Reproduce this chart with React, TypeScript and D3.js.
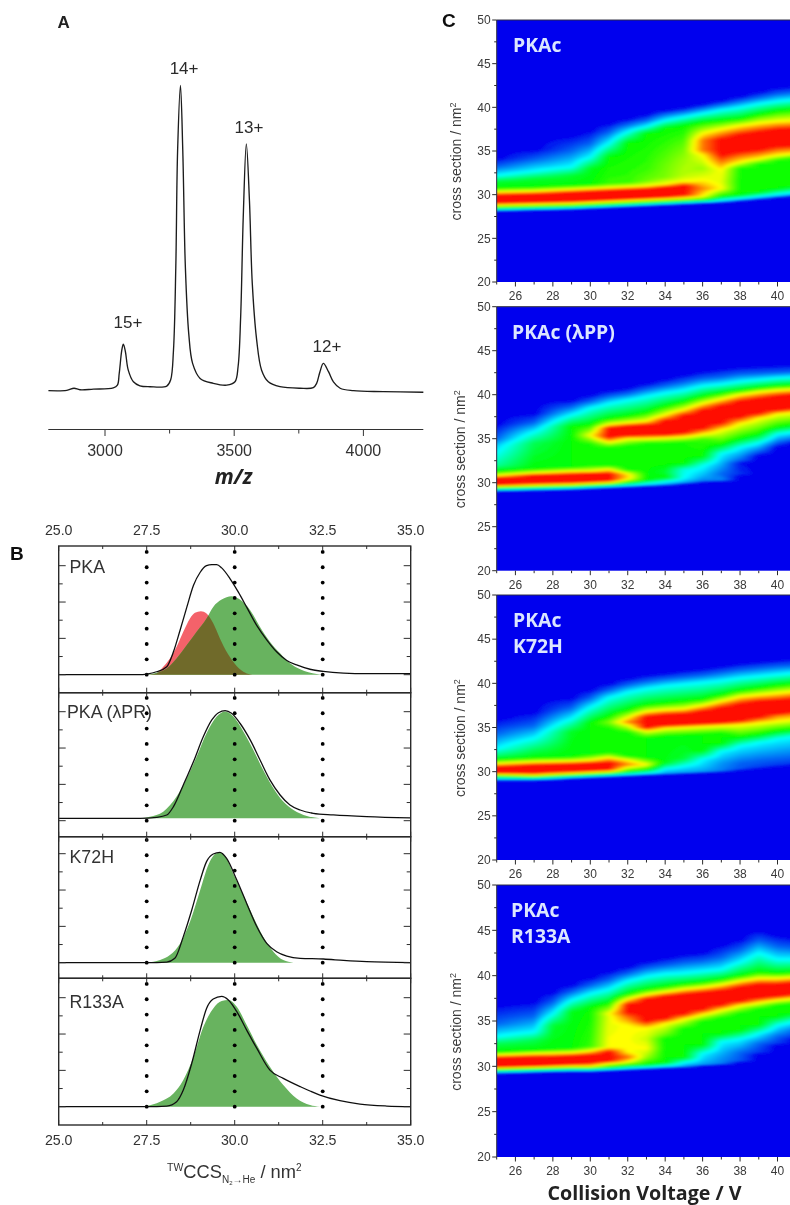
import React, { useMemo } from "react";
import * as d3 from "d3";

// ---------- Panel A ----------
const mzValues = [2781,2852,2880,2903,2955,3032,3048,3055,3065,3071,3079,3090,3110,3135,3174,3239,3254,3265,3274,3281,3292,3301,3311,3324,3339,3368,3419,3471,3503,3515,3525,3535,3547,3559,3570,3587,3606,3632,3677,3755,3806,3819,3832,3845,3865,3884,3910,3961,4077,4232];
const mzIntensity = [0,.1,.8,.3,.5,.9,1.8,5.6,13.2,15.2,12.7,6.7,2.9,1.6,1.3,1.5,3.5,13.2,40.3,78.3,99.5,78.3,40.3,18.7,8.9,4,2.4,1.8,2.9,7.8,24.1,56.6,80.5,62,34.9,16.5,6.7,2.9,1.3,.8,1,2.4,6.2,8.9,6.2,2.9,.8,0,-.3,-.5];
const mzMajorTicks = [3000,3500,4000];
const mzMinorTicks = [3250,3750];
const peakLabels: [string, number, number][] = [["15+",3089,19.1],["14+",3306,102],["13+",3557,82.7],["12+",3859,11.3]];

// ---------- Panel B ----------
type XY = [number, number];
const pkaTotal: XY[] = [[25,0],[27.31,0],[27.5,.006],[27.78,.027],[28.07,.073],[28.26,.21],[28.45,.41],[28.64,.62],[28.83,.82],[29.02,.94],[29.2,1],[29.35,1.01],[29.49,1.01],[29.63,.98],[29.87,.88],[30.1,.76],[30.34,.62],[30.63,.45],[30.91,.32],[31.19,.21],[31.48,.13],[31.76,.09],[32.14,.05],[32.52,.03],[33.09,.015],[33.75,.01],[35,.01]];
const pkaRed: XY[] = [[27.5,0],[27.78,.012],[27.97,.073],[28.16,.149],[28.35,.256],[28.54,.394],[28.73,.516],[28.87,.568],[29.04,.583],[29.2,.562],[29.39,.471],[29.58,.333],[29.77,.211],[29.96,.119],[30.15,.049],[30.34,.012],[30.5,0]];
const pkaGreen: XY[] = [[27.5,0],[27.78,.018],[28.07,.058],[28.35,.149],[28.64,.272],[28.92,.394],[29.2,.516],[29.39,.622],[29.63,.689],[29.91,.72],[30.15,.689],[30.44,.591],[30.72,.438],[31,.303],[31.29,.196],[31.57,.104],[31.86,.049],[32.33,.006],[32.5,0]];
const lppTotal: XY[] = [[25,0],[27.31,0],[27.78,.009],[28.07,.03],[28.26,.107],[28.54,.306],[28.83,.52],[29.11,.75],[29.35,.902],[29.54,.969],[29.73,.988],[29.91,.963],[30.15,.872],[30.44,.719],[30.72,.535],[31,.352],[31.29,.214],[31.57,.122],[31.86,.076],[32.23,.046],[32.8,.031],[33.75,.015],[35,.003]];
const lppGreen: XY[] = [[27.31,0],[27.59,.015],[27.97,.061],[28.35,.199],[28.64,.367],[28.92,.566],[29.2,.78],[29.49,.933],[29.73,.979],[29.96,.933],[30.25,.795],[30.53,.627],[30.81,.443],[31.1,.275],[31.38,.153],[31.67,.076],[32.05,.021],[32.42,0]];
const k72Total: XY[] = [[25,0],[27.5,0],[28.07,.006],[28.3,.04],[28.54,.239],[28.78,.483],[29.02,.758],[29.2,.927],[29.39,.997],[29.58,1.012],[29.77,.957],[30.06,.758],[30.34,.544],[30.63,.33],[30.91,.177],[31.19,.101],[31.48,.061],[31.86,.04],[32.52,.034],[33.09,.021],[33.75,.009],[35,0]];
const k72Green: XY[] = [[27.5,0],[27.88,.024],[28.16,.07],[28.45,.177],[28.73,.376],[29.02,.667],[29.25,.896],[29.44,.997],[29.58,1.012],[29.73,.979],[29.96,.817],[30.25,.618],[30.53,.42],[30.81,.239],[31.1,.101],[31.38,.024],[31.67,0]];
const r133Total: XY[] = [[25,0],[27.5,0],[28.07,.006],[28.35,.046],[28.54,.153],[28.78,.398],[29.02,.703],[29.2,.902],[29.39,.988],[29.63,1.012],[29.82,.979],[30.06,.872],[30.34,.703],[30.63,.535],[31,.336],[31.38,.26],[31.86,.184],[32.42,.107],[32.99,.055],[33.56,.024],[34.32,.006],[35,0]];
const r133Green: XY[] = [[27.5,.006],[27.88,.046],[28.26,.122],[28.54,.245],[28.83,.459],[29.11,.734],[29.39,.902],[29.63,.969],[29.82,.979],[30.06,.917],[30.34,.75],[30.63,.566],[31,.367],[31.38,.199],[31.76,.076],[32.14,.015],[32.42,0]];
const ccsMajorTicks = [25,27.5,30,32.5,35];
const ccsMinorTicks = [26.25,28.75,31.25,33.75];
const ccsLabels = ["25.0","27.5","30.0","32.5","35.0"];
const guideLines = [27.5,30,32.5];
const intensityMajor = [0,1/3,2/3,1];
const intensityMinor = [1/6,1/2,5/6];
const bPanelNames = ["PKA","PKA (λPR)","K72H","R133A"];

// ---------- Panel C: each column is [voltage, [ccs, level] stops] ----------
type Col = [number, XY[]];
const hmPKAc: Col[] = [
[25,[[28,0],[28.2,.15],[28.5,.5],[28.8,.75],[29.1,1],[29.9,1],[30.3,.75],[30.8,.5],[31.5,.45],[32.2,.25],[33.2,.1],[34.2,0]]],
[27,[[28.1,0],[28.3,.15],[28.6,.5],[28.9,.75],[29.2,1],[30,1],[30.4,.75],[30.9,.5],[31.8,.45],[32.7,.25],[34,.1],[35.2,0]]],
[29,[[28.2,0],[28.4,.15],[28.7,.5],[29,.75],[29.3,1],[30.2,1],[30.6,.75],[31.1,.5],[32.2,.45],[33.2,.25],[35,.1],[36.8,0]]],
[30,[[28.3,0],[28.5,.15],[28.8,.5],[29.1,.75],[29.4,1],[30.3,1],[30.7,.75],[31.2,.5],[33,.47],[34.3,.25],[35.8,.1],[37.4,0]]],
[31,[[28.4,0],[28.6,.15],[28.9,.5],[29.2,.75],[29.5,1],[30.4,1],[30.8,.75],[31.3,.55],[34.3,.5],[35.9,.25],[37.1,.1],[38.2,0]]],
[32,[[28.5,0],[28.7,.15],[29,.5],[29.3,.75],[29.6,1],[30.5,1],[30.9,.75],[31.4,.55],[35.9,.5],[37.2,.25],[38,.1],[38.7,0]]],
[33,[[28.6,0],[28.8,.15],[29.1,.5],[29.4,.75],[29.7,1],[30.6,1],[31,.75],[31.6,.6],[33,.55],[37,.5],[37.8,.25],[38.5,.1],[39.2,0]]],
[34,[[28.7,0],[28.9,.15],[29.2,.5],[29.5,.75],[29.8,1],[30.8,1],[31.2,.75],[32,.62],[33.5,.6],[37.6,.5],[38.5,.25],[39.2,.1],[39.7,0]]],
[35,[[28.8,0],[29,.15],[29.3,.5],[29.6,.75],[30,1],[31,1],[31.5,.75],[32.2,.68],[34,.65],[35.5,.6],[37.9,.5],[38.9,.25],[39.5,.1],[40,0]]],
[36,[[28.9,0],[29.1,.15],[29.4,.5],[29.8,.75],[30.7,.87],[31.7,.75],[33,.65],[34.5,.75],[35.1,.88],[36.2,.88],[37,.75],[38.3,.5],[39.3,.25],[39.9,.1],[40.4,0]]],
[37,[[29,0],[29.2,.15],[29.8,.5],[30.7,.75],[31.5,.72],[32.8,.75],[34.6,1],[36.3,1],[37.5,.75],[38.5,.5],[39.7,.25],[40.3,.1],[40.8,0]]],
[38,[[29.2,0],[29.4,.15],[30,.5],[33,.52],[33.7,.75],[35,1],[36.8,1],[37.9,.75],[38.7,.5],[40,.25],[40.7,.1],[41.3,0]]],
[39,[[29.4,0],[29.6,.15],[30.3,.5],[33.5,.52],[34.1,.75],[35.2,1],[37.1,1],[38.2,.75],[39.2,.5],[40.4,.25],[41.1,.1],[41.8,0]]],
[40,[[29.6,0],[29.9,.2],[30.7,.5],[33.9,.52],[34.5,.75],[35.6,1],[37.4,1],[38.4,.75],[39.6,.5],[40.7,.25],[41.5,.1],[42.3,0]]],
[41,[[29.8,0],[30.1,.2],[31,.5],[34.2,.52],[34.7,.75],[35.7,1],[37.5,1],[38.5,.75],[39.8,.5],[40.9,.25],[41.7,.1],[42.5,0]]],
];
const hmLPP: Col[] = [
[25,[[28.9,0],[29.1,.15],[29.4,.5],[29.6,.75],[29.8,1],[30.5,1],[30.8,.75],[31.3,.5],[32,.35],[33,.28],[34.2,.2],[35,.1],[36.7,0]]],
[27,[[29,0],[29.2,.15],[29.5,.5],[29.7,.75],[30,1],[30.8,1],[31.1,.75],[31.6,.5],[34.5,.42],[35.8,.25],[36.8,.1],[37.9,0]]],
[29,[[29.1,0],[29.3,.15],[29.6,.5],[29.8,.75],[30.1,1],[30.9,1],[31.3,.75],[31.8,.5],[36.4,.5],[37.7,.25],[38.6,.1],[39.4,0]]],
[30,[[29.2,0],[29.4,.15],[29.7,.5],[29.9,.75],[30.2,1],[31,1],[31.3,.75],[32,.5],[34.4,.52],[35.4,.75],[36.6,.5],[38.5,.25],[39.2,.1],[40,0]]],
[31,[[29.3,0],[29.5,.15],[29.8,.5],[30,.75],[30.3,1],[31,1],[31.5,.75],[32,.5],[34,.52],[34.6,.75],[35.2,1],[36.2,1],[36.6,.75],[37.3,.5],[39,.25],[39.8,.1],[40.5,0]]],
[32,[[29.4,0],[29.6,.15],[30,.5],[30.4,.75],[30.7,.8],[31,.75],[31.5,.5],[34.2,.52],[35,.75],[35.4,1],[36.4,1],[36.8,.75],[37.6,.5],[39.4,.25],[40.1,.1],[40.8,0]]],
[33,[[29.5,0],[29.7,.15],[30.3,.5],[34.5,.52],[35,.75],[35.5,1],[36.5,1],[37,.75],[38,.5],[39.8,.25],[40.6,.1],[41.3,0]]],
[34,[[29.6,0],[29.8,.15],[30.1,.25],[30.6,.5],[31.2,.45],[32,.5],[34.5,.52],[35.1,.75],[35.5,1],[37,1],[37.7,.75],[38.7,.5],[40.2,.25],[41,.1],[41.8,0]]],
[35,[[29.8,0],[30,.15],[30.5,.25],[31.5,.28],[32.2,.5],[34.6,.52],[35.2,.75],[35.7,1],[37.6,1],[38.3,.75],[39.2,.5],[40.5,.25],[41.4,.1],[42.3,0]]],
[36,[[30,0],[30.2,.12],[30.8,.18],[32,.27],[33,.5],[34.9,.55],[35.5,.75],[36.2,1],[38.2,1],[39,.75],[39.8,.5],[41,.25],[41.8,.1],[42.7,0]]],
[37,[[30.1,0],[30.3,.14],[31,.1],[33.3,.25],[34.3,.5],[36,.75],[36.8,1],[38.7,1],[39.5,.75],[40.2,.5],[41.2,.25],[42,.1],[43,0]]],
[38,[[30.7,0],[31,.05],[32.2,.02],[32.6,.1],[34,.25],[35,.5],[36.7,.75],[37.5,1],[39.2,1],[40,.75],[40.5,.5],[41.5,.25],[42.3,.1],[43.2,0]]],
[39,[[33,0],[33.6,.1],[34.5,.25],[35.5,.5],[37.3,.75],[37.9,1],[39.5,1],[40.3,.75],[40.8,.5],[41.7,.25],[42.4,.1],[43.3,0]]],
[40,[[34,0],[34.6,.1],[35.5,.25],[36.3,.5],[37.8,.75],[38.3,1],[39.8,1],[40.5,.75],[41,.5],[41.9,.25],[42.5,.1],[43.4,0]]],
[41,[[34.5,0],[35,.1],[35.8,.25],[36.6,.5],[38,.75],[38.5,1],[40,1],[40.6,.75],[41.1,.5],[42,.25],[42.6,.1],[43.5,0]]],
];
const hmK72H: Col[] = [
[25,[[28.9,0],[29.1,.15],[29.5,.5],[29.7,.75],[29.9,1],[30.5,1],[30.9,.75],[31.4,.5],[31.8,.4],[32.6,.25],[34.3,.1],[36,0]]],
[27,[[28.9,0],[29.1,.15],[29.4,.5],[29.6,.75],[29.9,1],[30.7,1],[31.1,.75],[31.6,.5],[32.4,.42],[33.8,.25],[35.2,.1],[36.8,0]]],
[29,[[29.1,0],[29.3,.15],[29.6,.5],[29.8,.75],[30.1,1],[30.8,1],[31.2,.75],[31.7,.5],[34.5,.47],[36,.25],[37.2,.1],[38.4,0]]],
[30,[[29.2,0],[29.4,.15],[29.7,.5],[29.9,.75],[30.2,1],[30.9,1],[31.3,.75],[32,.5],[35.5,.5],[37.3,.25],[38.3,.1],[39.3,0]]],
[31,[[29.3,0],[29.5,.15],[29.8,.5],[30,.75],[30.3,1],[31,1],[31.6,.75],[32.2,.5],[34.8,.5],[35.6,.62],[36.3,.5],[38.4,.25],[39.2,.1],[40,0]]],
[32,[[29.4,0],[29.6,.15],[30,.5],[30.5,.75],[30.8,.87],[31.3,.75],[31.8,.5],[34.4,.5],[35.3,.75],[35.6,.87],[36.1,.75],[37,.5],[39,.25],[39.8,.1],[40.6,0]]],
[33,[[29.5,0],[29.7,.15],[30.2,.5],[30.8,.75],[31.6,.5],[33.8,.5],[34.6,.75],[35,1],[36.2,1],[36.8,.75],[37.6,.5],[39.4,.25],[40.2,.1],[41,0]]],
[34,[[29.6,0],[29.8,.15],[30.3,.25],[31,.48],[34,.5],[34.9,.75],[35.3,1],[36.4,1],[37,.75],[37.8,.5],[39.7,.25],[40.5,.1],[41.2,0]]],
[35,[[29.7,0],[29.9,.15],[30.6,.25],[31.5,.45],[34.1,.5],[35,.75],[35.4,1],[36.5,1],[37.1,.75],[38,.5],[39.9,.25],[40.7,.1],[41.5,0]]],
[36,[[29.8,0],[30,.15],[30.6,.2],[31.4,.25],[32.4,.5],[34.2,.5],[35.1,.75],[35.5,1],[36.8,1],[37.5,.75],[38.2,.5],[40.1,.25],[40.9,.1],[41.7,0]]],
[37,[[29.9,0],[30.1,.12],[31,.15],[32.3,.25],[33.2,.5],[34.3,.5],[35.2,.75],[35.6,1],[37.2,1],[38,.75],[38.7,.5],[40.3,.25],[41.2,.1],[42,0]]],
[38,[[30.1,0],[30.3,.08],[31,.1],[32.9,.25],[33.9,.5],[35.3,.75],[35.8,1],[37.6,1],[38.5,.75],[39.2,.5],[40.6,.25],[41.5,.1],[42.3,0]]],
[39,[[30.3,0],[30.5,.06],[31.3,.1],[33.3,.25],[34.2,.5],[35.5,.75],[36.2,1],[37.9,1],[38.7,.75],[39.5,.5],[40.8,.25],[41.7,.1],[42.5,0]]],
[40,[[30.5,0],[30.7,.05],[31.5,.1],[33.7,.25],[34.6,.5],[35.7,.75],[36.3,.87],[36.6,1],[38,1],[38.9,.75],[39.8,.5],[41,.25],[41.9,.1],[42.7,0]]],
[41,[[30.7,0],[30.9,.05],[31.7,.1],[34,.25],[34.8,.5],[35.9,.75],[36.5,.87],[36.8,1],[38.2,1],[39.1,.75],[40,.5],[41.2,.25],[42,.1],[42.9,0]]],
];
const hmR133: Col[] = [
[25,[[29.1,0],[29.3,.15],[29.6,.5],[29.8,.75],[30,1],[30.9,1],[31.25,.75],[31.6,.5],[32.5,.42],[33.3,.25],[34.7,.1],[36.8,0]]],
[27,[[29.2,0],[29.4,.15],[29.7,.5],[29.9,.75],[30.1,1],[31,1],[31.4,.75],[31.8,.5],[32.9,.42],[33.8,.25],[35.5,.1],[37.2,0]]],
[28,[[29.3,0],[29.45,.15],[29.75,.5],[29.95,.75],[30.2,1],[31,1],[31.45,.75],[31.9,.5],[34.5,.45],[35.8,.25],[37,.1],[38.2,0]]],
[29,[[29.3,0],[29.5,.15],[29.8,.5],[30,.75],[30.3,1],[31.1,1],[31.5,.75],[32,.5],[36,.48],[37.3,.25],[38.2,.1],[39,0]]],
[30,[[29.3,0],[29.5,.15],[29.8,.5],[30,.75],[30.4,1],[31.2,1],[31.7,.75],[32.2,.55],[36.5,.5],[38,.25],[38.9,.1],[39.8,0]]],
[31,[[29.4,0],[29.6,.15],[29.9,.5],[30.3,.75],[30.6,1],[31.6,1],[32.1,.75],[35.5,.72],[35.8,.75],[37,.5],[38.5,.25],[39.5,.1],[40.5,0]]],
[32,[[29.5,0],[29.7,.15],[30.1,.5],[30.5,.75],[31,.9],[31.6,.75],[34.5,.75],[35.5,.9],[36,1],[36.8,1],[37.4,.75],[38,.5],[39.4,.25],[40.2,.1],[41,0]]],
[33,[[29.6,0],[29.8,.15],[30.2,.5],[31,.65],[32,.75],[33,.7],[34.2,.75],[35,1],[37.4,1],[37.9,.75],[38.5,.5],[39.9,.25],[40.8,.1],[41.6,0]]],
[34,[[29.7,0],[29.9,.15],[30.4,.5],[33,.5],[33.5,.6],[34.7,.75],[35.3,1],[37.7,1],[38.2,.75],[38.8,.5],[40.2,.25],[41.1,.1],[42,0]]],
[35,[[29.8,0],[30,.15],[30.4,.25],[31,.5],[34.1,.5],[35.2,.75],[35.8,1],[37.9,1],[38.5,.75],[39.1,.5],[40.3,.25],[41.4,.1],[42.4,0]]],
[36,[[30,0],[30.2,.15],[30.7,.2],[31.4,.25],[32.4,.5],[34.9,.5],[35.7,.75],[36.3,1],[38.1,1],[38.7,.75],[39.3,.5],[40.5,.25],[41.6,.1],[42.6,0]]],
[37,[[30.1,0],[30.3,.12],[31,.15],[32.7,.25],[33.6,.5],[35.3,.5],[36.2,.75],[36.8,1],[38.3,1],[39,.75],[39.6,.5],[40.7,.25],[42,.1],[43.4,0]]],
[38,[[30.4,0],[30.6,.08],[31.5,.1],[33,.25],[34,.5],[35.8,.5],[36.7,.75],[37.2,1],[38.7,1],[39.4,.75],[40,.5],[41.5,.25],[42.8,.1],[44,0]]],
[39,[[31.3,0],[31.5,.05],[32.5,.1],[33.6,.25],[34.6,.5],[36.3,.5],[37,.75],[37.6,1],[39,1],[39.7,.75],[40.4,.5],[42.5,.25],[43.8,.1],[45,0]]],
[40,[[32.3,0],[32.5,.05],[33.3,.1],[34.5,.25],[35.5,.5],[36.7,.5],[37.3,.75],[37.8,1],[39,1],[39.7,.75],[40.3,.5],[41.8,.25],[43.2,.1],[44.5,0]]],
[41,[[33,0],[33.3,.05],[34,.1],[35,.25],[35.9,.5],[36.9,.5],[37.5,.75],[38,1],[39.2,1],[39.8,.75],[40.4,.5],[41.8,.25],[43,.1],[44.2,0]]],
];
const voltageMajor = [26,28,30,32,34,36,38,40];
const voltageMinor = [25,27,29,31,33,35,37,39,41];
const ccsCMajor = [20,25,30,35,40,45,50];
const ccsCMinor = [22.5,27.5,32.5,37.5,42.5,47.5];
const rainbowStops = [0,.25,.5,.75,1];
const rainbowColors = ["#0000ee","#00ffff","#00ff00","#ffff00","#ff0000"];

const SANS = "'Liberation Sans', Arial, sans-serif";
const OPEN = "'Open Sans', sans-serif";
const INK = "#2b2b2b";

const gridV0 = 24.5;
function buildGrid(cols: Col[]) {
  const nx = 171, ny = 301;
  const vols = cols.map(c => c[0]);
  const profiles = cols.map(c => {
    const s = d3.scaleLinear().domain(c[1].map(p => p[0])).range(c[1].map(p => p[1])).clamp(true);
    return d3.range(ny).map(j => s(50 - j * 0.1));
  });
  const vals = new Float64Array(nx * ny);
  const bis = d3.bisector((d: number) => d).right;
  for (let i = 0; i < nx; i++) {
    const v = gridV0 + i * 0.1;
    const k = Math.min(vols.length - 2, Math.max(0, bis(vols, v) - 1));
    const t = Math.max(0, Math.min(1, (v - vols[k]) / (vols[k + 1] - vols[k])));
    for (let j = 0; j < ny; j++) vals[j * nx + i] = profiles[k][j] * (1 - t) + profiles[k + 1][j] * t;
  }
  return { nx, ny, vals };
}

const thresholds = d3.range(0.02, 1.0, 0.02);
const rainbow = d3.scaleLinear<string>().domain(rainbowStops).range(rainbowColors);

function Heatmap({ id, cols, top, bottom, titleX, labels, lines }: any) {
  const x = d3.scaleLinear().domain([25, 41]).range([496.7, 496.7 + 16 * 18.72]);
  const y = d3.scaleLinear().domain([20, 50]).range([bottom, top]);
  const paths = useMemo(() => {
    const g = buildGrid(cols);
    const cs = d3.contours().size([g.nx, g.ny]).smooth(true).thresholds(thresholds)(g.vals as any);
    const gp = d3.geoPath();
    return cs.map(c => ({ d: gp(c as any) || "", v: c.value }));
  }, [cols]);
  const sx = x(25.1) - x(25), sy = y(49.9) - y(50);
  return (
    <g>
      <clipPath id={id}><rect x={x(25)} y={y(50)} width={x(41) - x(25)} height={y(20) - y(50)} /></clipPath>
      <rect x={x(25)} y={y(50)} width={x(41) - x(25)} height={y(20) - y(50)} fill={rainbowColors[0]} />
      <g clipPath={`url(#${id})`}>
        <g filter="url(#heatBlur)">
          <g transform={`translate(${x(gridV0) - 0.5 * sx},${y(50) - 0.5 * sy}) scale(${sx},${sy})`}>
            {paths.map((p, i) => <path key={i} d={p.d} fill={rainbow(p.v + 0.01)} />)}
          </g>
        </g>
      </g>
      <line x1={x(25)} x2={790} y1={y(50)} y2={y(50)} stroke="#334" strokeWidth={1} />
      <line x1={x(25)} x2={x(25)} y1={y(50)} y2={y(20)} stroke="#334" strokeWidth={1} />
      {ccsCMajor.map(t => (
        <g key={t}>
          <line x1={x(25) - 4.5} x2={x(25)} y1={y(t)} y2={y(t)} stroke={INK} strokeWidth={1} />
          <text x={x(25) - 6} y={y(t) + 4.2} textAnchor="end" fontFamily={SANS} fontSize={12} fill="#3a3a3a">{t}</text>
        </g>
      ))}
      {ccsCMinor.map(t => <line key={t} x1={x(25) - 2.5} x2={x(25)} y1={y(t)} y2={y(t)} stroke={INK} strokeWidth={1} />)}
      {voltageMajor.map(t => (
        <g key={t}>
          <line x1={x(t)} x2={x(t)} y1={y(20)} y2={y(20) + 4.5} stroke={INK} strokeWidth={1} />
          <text x={x(t)} y={y(20) + 18} textAnchor="middle" fontFamily={SANS} fontSize={12} fill="#3a3a3a">{t}</text>
        </g>
      ))}
      {voltageMinor.map(t => <line key={t} x1={x(t)} x2={x(t)} y1={y(20)} y2={y(20) + 2.5} stroke={INK} strokeWidth={1} />)}
      <text transform={`translate(${titleX},${y(33.8)}) rotate(-90)`} textAnchor="middle" fontFamily={SANS} fontSize={14} fill="#3a3a3a">
        cross section / nm<tspan fontSize={9} dy={-5.5}>2</tspan>
      </text>
      {labels.map((l: string, i: number) => (
        <text key={l} x={lines[0]} y={lines[1] + i * 26} fontFamily={OPEN} fontWeight={700} fontSize={19.4} fill="#dbe6ff">{l}</text>
      ))}
    </g>
  );
}

function BPanel({ idx, top, bottom, base, tickOffset, total, greens, red, clipId }: any) {
  const x = d3.scaleLinear().domain([25, 35]).range([58.7, 410.7]);
  const y = d3.scaleLinear().domain([0, 1]).range([base, base - 109]);
  const area = d3.area<XY>().x(d => x(d[0])).y0(y(0)).y1(d => y(d[1])).curve(d3.curveMonotoneX);
  const line = d3.line<XY>().x(d => x(d[0])).y(d => y(d[1])).curve(d3.curveMonotoneX);
  const dots = d3.range(9);
  const y0 = y(tickOffset);
  return (
    <g>
      {red && <path d={area(red) || ""} fill="#f4626a" />}
      <path d={area(greens) || ""} fill="#68b35f" />
      {red && (
        <>
          <clipPath id={clipId}><path d={area(greens) || ""} /></clipPath>
          <path d={area(red) || ""} fill="#6f6b2b" clipPath={`url(#${clipId})`} />
        </>
      )}
      {guideLines.map(g => dots.map(k => <circle key={`${g}-${k}`} cx={x(g)} cy={y0 - k * 15.35} r={1.9} fill="#000" />))}
      <path d={line(total) || ""} fill="none" stroke="#111" strokeWidth={1.3} />
      <rect x={x(25)} y={top} width={x(35) - x(25)} height={bottom - top} fill="none" stroke={INK} strokeWidth={1.4} />
      {ccsMajorTicks.map(t => (
        <g key={t}>
          <line x1={x(t)} x2={x(t)} y1={top} y2={top + 5} stroke={INK} strokeWidth={1} />
          <line x1={x(t)} x2={x(t)} y1={bottom} y2={bottom - 5} stroke={INK} strokeWidth={1} />
        </g>
      ))}
      {ccsMinorTicks.map(t => (
        <g key={t}>
          <line x1={x(t)} x2={x(t)} y1={top} y2={top + 3} stroke={INK} strokeWidth={1} />
          <line x1={x(t)} x2={x(t)} y1={bottom} y2={bottom - 3} stroke={INK} strokeWidth={1} />
        </g>
      ))}
      {intensityMajor.map(t => (
        <g key={t}>
          <line x1={x(25)} x2={x(25) + 7} y1={y(t + tickOffset)} y2={y(t + tickOffset)} stroke={INK} strokeWidth={1} />
          <line x1={x(35)} x2={x(35) - 7} y1={y(t + tickOffset)} y2={y(t + tickOffset)} stroke={INK} strokeWidth={1} />
        </g>
      ))}
      {intensityMinor.map(t => (
        <g key={t}>
          <line x1={x(25)} x2={x(25) + 4} y1={y(t + tickOffset)} y2={y(t + tickOffset)} stroke={INK} strokeWidth={1} />
          <line x1={x(35)} x2={x(35) - 4} y1={y(t + tickOffset)} y2={y(t + tickOffset)} stroke={INK} strokeWidth={1} />
        </g>
      ))}
      <text x={idx === 1 ? 67 : 69.5} y={[573, 718, 863, 1008][idx]} fontFamily={SANS} fontSize={17.8} fill="#333">{bPanelNames[idx]}</text>
    </g>
  );
}

export default function App() {
  const xA = d3.scaleLinear().domain([3000, 4000]).range([105, 363.4]);
  const yA = d3.scaleLinear().domain([0, 100]).range([390.7, 84]);
  const pts: XY[] = mzValues.map((m, i) => [m, mzIntensity[i]]);
  const lineA = d3.line<XY>().x(d => xA(d[0])).y(d => yA(d[1])).curve(d3.curveCatmullRom.alpha(0.5));
  const xB = d3.scaleLinear().domain([25, 35]).range([58.7, 410.7]);
  return (
    <svg width={790} height={1205} viewBox="0 0 790 1205" style={{ position: "absolute", left: 0, top: 0, background: "#fff" }}>
      <defs>
        <filter id="soft" x="0" y="0" width="100%" height="100%"><feGaussianBlur stdDeviation={0.6} /></filter>
        <filter id="heatBlur" x="-5%" y="-5%" width="110%" height="110%"><feGaussianBlur stdDeviation="2.2 0.9" /></filter>
      </defs>
      <g filter="url(#soft)">
        <rect x={0} y={0} width={790} height={1205} fill="#fff" />
        {/* Panel A */}
        <text x={57.5} y={28} fontFamily={SANS} fontWeight={700} fontSize={17} fill="#222">A</text>
        <path d={lineA(pts) || ""} fill="none" stroke="#1c1c1c" strokeWidth={1.35} />
        <line x1={48.3} x2={423.3} y1={429.5} y2={429.5} stroke="#333" strokeWidth={1.2} />
        {mzMajorTicks.map(t => (
          <g key={t}>
            <line x1={xA(t)} x2={xA(t)} y1={429.5} y2={436} stroke="#333" strokeWidth={1} />
            <text x={xA(t)} y={455.5} textAnchor="middle" fontFamily={SANS} fontSize={16} fill="#333">{t}</text>
          </g>
        ))}
        {mzMinorTicks.map(t => <line key={t} x1={xA(t)} x2={xA(t)} y1={429.5} y2={433.5} stroke="#333" strokeWidth={1} />)}
        {peakLabels.map(([l, m, v]) => (
          <text key={l} x={xA(m)} y={yA(v) - 4} textAnchor="middle" fontFamily={SANS} fontSize={17} fill="#2b2b2b">{l}</text>
        ))}
        <text x={233.5} y={484} textAnchor="middle" fontFamily={OPEN} fontWeight={700} fontStyle="italic" fontSize={21} fill="#222">m/z</text>

        {/* Panel B */}
        <text x={10} y={560} fontFamily={SANS} fontWeight={700} fontSize={19} fill="#111">B</text>
        {ccsMajorTicks.map((t, i) => (
          <g key={t}>
            <text x={xB(t)} y={535} textAnchor="middle" fontFamily={SANS} fontSize={14.2} fill="#333">{ccsLabels[i]}</text>
            <text x={xB(t)} y={1145} textAnchor="middle" fontFamily={SANS} fontSize={14.2} fill="#333">{ccsLabels[i]}</text>
          </g>
        ))}
        <BPanel idx={0} top={546} bottom={692.7} base={674.7} tickOffset={0} total={pkaTotal} greens={pkaGreen} red={pkaRed} clipId="ovl" />
        <BPanel idx={1} top={692.7} bottom={836.7} base={818.3} tickOffset={-0.022} total={lppTotal} greens={lppGreen} />
        <BPanel idx={2} top={836.7} bottom={978.3} base={962.7} tickOffset={0} total={k72Total} greens={k72Green} />
        <BPanel idx={3} top={978.3} bottom={1125} base={1106.7} tickOffset={0} total={r133Total} greens={r133Green} />
        <text x={167} y={1178} fontFamily={SANS} fontSize={18.3} fill="#333">
          <tspan fontSize={10.5} dy={-7}>TW</tspan>
          <tspan dy={7}>CCS</tspan>
          <tspan fontSize={10} dy={5}>N</tspan>
          <tspan fontSize={6} dy={1.5}>2</tspan>
          <tspan fontSize={10} dy={-1.5}>→He</tspan>
          <tspan dy={-5}> / nm</tspan>
          <tspan fontSize={10} dy={-7}>2</tspan>
        </text>

        {/* Panel C */}
        <text x={442} y={27} fontFamily={SANS} fontWeight={700} fontSize={19} fill="#111">C</text>
        <Heatmap id="h1" cols={hmPKAc} top={20} bottom={282} titleX={461} labels={["PKAc"]} lines={[513, 52]} />
        <Heatmap id="h2" cols={hmLPP} top={306.7} bottom={570.7} titleX={465} labels={["PKAc (λPP)"]} lines={[512, 339]} />
        <Heatmap id="h3" cols={hmK72H} top={595} bottom={860} titleX={465} labels={["PKAc", "K72H"]} lines={[513, 627]} />
        <Heatmap id="h4" cols={hmR133} top={885} bottom={1157} titleX={461} labels={["PKAc", "R133A"]} lines={[511, 917]} />
        <text x={644.5} y={1199.5} textAnchor="middle" fontFamily={OPEN} fontWeight={700} fontSize={19.7} fill="#222">Collision Voltage / V</text>
      </g>
    </svg>
  );
}
